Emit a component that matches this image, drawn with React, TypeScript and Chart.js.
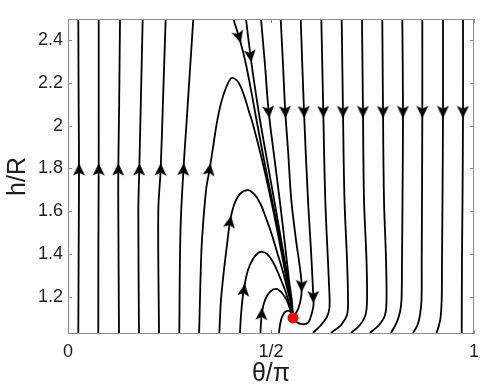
import React, { useEffect, useRef } from 'react';
import { Chart, registerables } from 'chart.js';

Chart.register(...registerables);

// ---- axes ----
const xTicks = [0, 0.5, 1];
const xTickLabels = ['0', '1/2', '1'];
const yTicks = [1.2, 1.4, 1.6, 1.8, 2, 2.2, 2.4];
const yTickLabels = ['1.2', '1.4', '1.6', '1.8', '2', '2.2', '2.4'];
const xRange = [0, 1];
const yRange = [1.025, 2.5];

// ---- fixed point (sink) ----
const sinkPoint = [[0.554, 1.1]];

// ---- streamlines, [theta/pi, h/R] ----
const lineL1 = [[0.0254, 2.5], [0.0262, 2.1], [0.0271, 1.798], [0.0262, 1.4], [0.0254, 1.03]];
const lineL2 = [[0.0756, 2.5], [0.0756, 2.1], [0.0756, 1.798], [0.0748, 1.4], [0.0746, 1.03]];
const lineL3 = [[0.1281, 2.5], [0.126, 2.1], [0.1239, 1.798], [0.1239, 1.6], [0.1256, 1.03]];
const lineL4 = [[0.184, 2.5], [0.1795, 2.12], [0.1756, 1.798], [0.1732, 1.6], [0.1749, 1.03]];
const lineL5 = [[0.2406, 2.5], [0.234, 2.12], [0.2283, 1.798], [0.2224, 1.6], [0.2241, 1.03]];
const lineL6 = [[0.3086, 2.5], [0.2924, 2.027], [0.2845, 1.798], [0.2771, 1.512], [0.2741, 1.03]];
const lineL7 = [
  [0.323, 1.03], [0.325, 1.184], [0.327, 1.325], [0.33, 1.465], [0.34, 1.699], [0.349, 1.798],
  [0.36, 1.934], [0.367, 2.018], [0.377, 2.107], [0.389, 2.177], [0.403, 2.224], [0.419, 2.205],
  [0.434, 2.14], [0.446, 2.065], [0.456, 2.004], [0.478, 1.84], [0.5, 1.653], [0.52, 1.465],
  [0.534, 1.325], [0.547, 1.194], [0.554, 1.1],
];
const lineL8 = [
  [0.3727, 1.03], [0.3768, 1.184], [0.3842, 1.325], [0.3916, 1.442], [0.399, 1.55], [0.4089, 1.629],
  [0.4236, 1.681], [0.4433, 1.699], [0.4606, 1.676], [0.4754, 1.629], [0.4877, 1.568], [0.5, 1.503],
  [0.5148, 1.409], [0.5296, 1.315], [0.5419, 1.222], [0.5493, 1.161], [0.5542, 1.1],
];
const lineL9 = [
  [0.4236, 1.03], [0.4261, 1.114], [0.431, 1.208], [0.436, 1.264], [0.4433, 1.325], [0.4557, 1.376],
  [0.468, 1.404], [0.4778, 1.41], [0.4901, 1.4], [0.5049, 1.362], [0.5197, 1.301], [0.5345, 1.231],
  [0.5443, 1.17], [0.5542, 1.1],
];
const lineL10 = [
  [0.4741, 1.03], [0.4754, 1.081], [0.4778, 1.128], [0.4852, 1.184], [0.4975, 1.222], [0.5123, 1.236],
  [0.5271, 1.217], [0.5394, 1.18], [0.5468, 1.142], [0.5542, 1.1],
];
const lineL11 = [
  [0.5197, 1.03], [0.5222, 1.067], [0.5271, 1.105], [0.5345, 1.128], [0.5443, 1.133], [0.5517, 1.119],
  [0.5542, 1.1],
];
const lineA = [
  [0.4071, 2.5], [0.4212, 2.416], [0.436, 2.308], [0.4507, 2.168], [0.4643, 2.027], [0.4828, 1.84],
  [0.5049, 1.629], [0.5246, 1.442], [0.5394, 1.278], [0.5493, 1.175], [0.5542, 1.1],
];
const lineB = [
  [0.4384, 2.5], [0.4495, 2.327], [0.4606, 2.177], [0.4729, 2.027], [0.4901, 1.84], [0.5099, 1.629],
  [0.5271, 1.442], [0.5419, 1.278], [0.5505, 1.175], [0.5542, 1.1],
];
const lineC = [
  [0.4754, 2.5], [0.4852, 2.285], [0.4943, 2.065], [0.5074, 1.863], [0.5214, 1.653], [0.5345, 1.442],
  [0.5443, 1.278], [0.5517, 1.175], [0.5542, 1.1],
];
const lineD = [
  [0.5239, 2.5], [0.5296, 2.285], [0.5352, 2.065], [0.5419, 1.887], [0.55, 1.653], [0.5616, 1.465],
  [0.5714, 1.334], [0.5756, 1.25], [0.5739, 1.194], [0.5677, 1.147], [0.5603, 1.119], [0.5542, 1.1],
];
const lineR1 = [
  [0.5732, 2.5], [0.5813, 2.065], [0.5911, 1.653], [0.5985, 1.418], [0.6034, 1.231], [0.6047, 1.161],
  [0.5985, 1.109], [0.5911, 1.077], [0.5739, 1.072], [0.5554, 1.091], [0.5542, 1.1],
];
const lineR2 = [
  [0.6239, 2.5], [0.6288, 2.065], [0.6337, 1.653], [0.6429, 1.255], [0.6441, 1.15], [0.6379, 1.105],
  [0.6232, 1.067], [0.6034, 1.03],
];
const lineR3 = [
  [0.6741, 2.5], [0.6773, 2.065], [0.681, 1.653], [0.6872, 1.372], [0.6897, 1.184], [0.6872, 1.114],
  [0.6724, 1.067], [0.6478, 1.03],
];
const lineR4 = [
  [0.7241, 2.5], [0.7266, 2.065], [0.7291, 1.653], [0.7352, 1.372], [0.7365, 1.184], [0.7328, 1.114],
  [0.7192, 1.067], [0.697, 1.03],
];
const lineR5 = [
  [0.7741, 2.5], [0.7759, 2.065], [0.7783, 1.653], [0.7833, 1.372], [0.7845, 1.184], [0.7808, 1.114],
  [0.766, 1.067], [0.7438, 1.03],
];
const lineR6 = [
  [0.8234, 2.5], [0.8251, 2.065], [0.8239, 1.653], [0.8227, 1.372], [0.8214, 1.184], [0.8177, 1.128],
  [0.8091, 1.077], [0.7956, 1.03],
];
const lineR7 = [
  [0.8727, 2.5], [0.8727, 2.065], [0.8719, 1.653], [0.8712, 1.372], [0.8707, 1.184], [0.867, 1.114],
  [0.8608, 1.067], [0.8498, 1.03],
];
const lineR8 = [
  [0.9236, 2.5], [0.9236, 2.065], [0.9224, 1.653], [0.9212, 1.372], [0.9204, 1.184], [0.9175, 1.1],
  [0.9126, 1.058], [0.9076, 1.03],
];
const lineR9 = [[0.9729, 2.5], [0.9729, 2.065], [0.9717, 1.653], [0.9704, 1.372], [0.9697, 1.03]];

const streamlines = [
  lineL1, lineL2, lineL3, lineL4, lineL5, lineL6, lineL7, lineL8, lineL9, lineL10, lineL11,
  lineA, lineB, lineC, lineD, lineR1, lineR2, lineR3, lineR4, lineR5, lineR6, lineR7, lineR8, lineR9,
];

// ---- arrowheads: position and direction (degrees clockwise from "up") ----
const arrowTheta = [
  0.0271, 0.0756, 0.1239, 0.1756, 0.2283, 0.2845, 0.3485,
  0.399, 0.4335, 0.4771,
  0.4212, 0.4495,
  0.4943, 0.5352, 0.5813, 0.6288, 0.6773, 0.7266, 0.7759, 0.8251, 0.8727, 0.9236, 0.9729,
  0.5756, 0.6042,
];
const arrowH = [
  1.795, 1.795, 1.795, 1.795, 1.795, 1.795, 1.795,
  1.55, 1.231, 1.119,
  2.416, 2.327,
  2.065, 2.065, 2.065, 2.065, 2.065, 2.065, 2.065, 2.065, 2.065, 2.065, 2.065,
  1.25, 1.198,
];
const arrowAngle = [
  0, 0, 1, 1.5, 2, 4, 9,
  10, 8, 3,
  164, 172,
  174, 177, 178, 179, 180, 180, 180, 180, 180, 180, 180,
  181, 180,
];

const FRAME = '#8c8c8c';
const TEXT = '#1e1e1e';
const FONT = "'Liberation Sans', Arial, Helvetica, sans-serif";

function makeArrow(): HTMLCanvasElement {
  const c = document.createElement('canvas');
  c.width = 13;
  c.height = 13;
  const g = c.getContext('2d') as CanvasRenderingContext2D;
  g.fillStyle = '#000';
  g.beginPath();
  g.moveTo(6.5, 0.3);
  g.lineTo(12.5, 12.5);
  g.lineTo(6.5, 9.8);
  g.lineTo(0.5, 12.5);
  g.closePath();
  g.fill();
  return c;
}

const framePlugin = {
  id: 'frameTicks',
  afterDatasetsDraw(chart: any) {
    const { ctx, chartArea: a, scales } = chart;
    ctx.save();
    ctx.strokeStyle = FRAME;
    ctx.lineWidth = 1;
    ctx.strokeRect(a.left + 0.5, a.top + 0.5, a.right - a.left - 1, a.bottom - a.top - 1);
    const len = 4;
    ctx.beginPath();
    xTicks.forEach((v) => {
      const px = Math.round(scales.x.getPixelForValue(v)) + 0.5;
      ctx.moveTo(px, a.bottom);
      ctx.lineTo(px, a.bottom - len);
      ctx.moveTo(px, a.top);
      ctx.lineTo(px, a.top + len);
    });
    yTicks.forEach((v) => {
      const py = Math.round(scales.y.getPixelForValue(v)) + 0.5;
      ctx.moveTo(a.left, py);
      ctx.lineTo(a.left + len, py);
      ctx.moveTo(a.right, py);
      ctx.lineTo(a.right - len, py);
    });
    ctx.stroke();
    ctx.restore();
  },
};

export default function App() {
  const ref = useRef<HTMLCanvasElement | null>(null);

  useEffect(() => {
    document.body.style.margin = '0';
    const canvas = ref.current;
    if (!canvas) return;
    const arrow = makeArrow();
    const toXY = (pts: number[][]) => pts.map(([x, y]) => ({ x, y }));

    const datasets: any[] = [
      {
        label: 'sink',
        data: toXY(sinkPoint),
        pointRadius: 5.5,
        pointBackgroundColor: '#ff0000',
        pointBorderColor: '#ff0000',
        pointBorderWidth: 0,
        showLine: false,
      },
      {
        label: 'arrows',
        data: arrowTheta.map((t, i) => ({ x: t, y: arrowH[i] })),
        pointStyle: arrow,
        pointRadius: 6,
        pointRotation: arrowAngle,
        showLine: false,
      },
      ...streamlines.map((pts, i) => ({
        label: 'stream' + i,
        data: toXY(pts),
        showLine: true,
        borderColor: '#000',
        borderWidth: 1.8,
        pointRadius: 0,
        tension: 0.35,
        fill: false,
      })),
    ];

    const chart = new Chart(canvas, {
      type: 'scatter',
      data: { datasets },
      plugins: [framePlugin],
      options: {
        animation: false,
        responsive: false,
        events: [],
        layout: { padding: { top: 19, right: 24, bottom: 0, left: 0 } },
        plugins: { legend: { display: false }, tooltip: { enabled: false } },
        scales: {
          x: {
            type: 'linear',
            min: xRange[0],
            max: xRange[1],
            grid: { display: false, drawTicks: false },
            border: { display: false },
            afterBuildTicks: (s: any) => {
              s.ticks = xTicks.map((v) => ({ value: v }));
            },
            afterFit: (s: any) => {
              s.height = 57;
            },
            ticks: {
              autoSkip: false,
              maxRotation: 0,
              padding: 7,
              color: TEXT,
              font: { family: FONT, size: 18 },
              callback: (_v: any, i: number) => xTickLabels[i],
            },
            title: {
              display: true,
              text: 'θ/π',
              color: TEXT,
              font: { family: FONT, size: 25 },
              padding: { top: 0, bottom: 2 },
            },
          },
          y: {
            type: 'linear',
            min: yRange[0],
            max: yRange[1],
            grid: { display: false, drawTicks: false },
            border: { display: false },
            afterBuildTicks: (s: any) => {
              s.ticks = yTicks.map((v) => ({ value: v }));
            },
            afterFit: (s: any) => {
              s.width = 68;
            },
            ticks: {
              autoSkip: false,
              padding: 5,
              color: TEXT,
              font: { family: FONT, size: 18 },
              callback: (_v: any, i: number) => yTickLabels[i],
            },
            title: {
              display: true,
              text: 'h/R',
              color: TEXT,
              font: { family: FONT, size: 25 },
              padding: { top: 3, bottom: 0 },
            },
          },
        },
      },
    });
    return () => chart.destroy();
  }, []);

  return (
    <div style={{ width: 498, height: 391, background: '#fff' }}>
      <canvas ref={ref} width={498} height={391} style={{ display: 'block' }} />
    </div>
  );
}
